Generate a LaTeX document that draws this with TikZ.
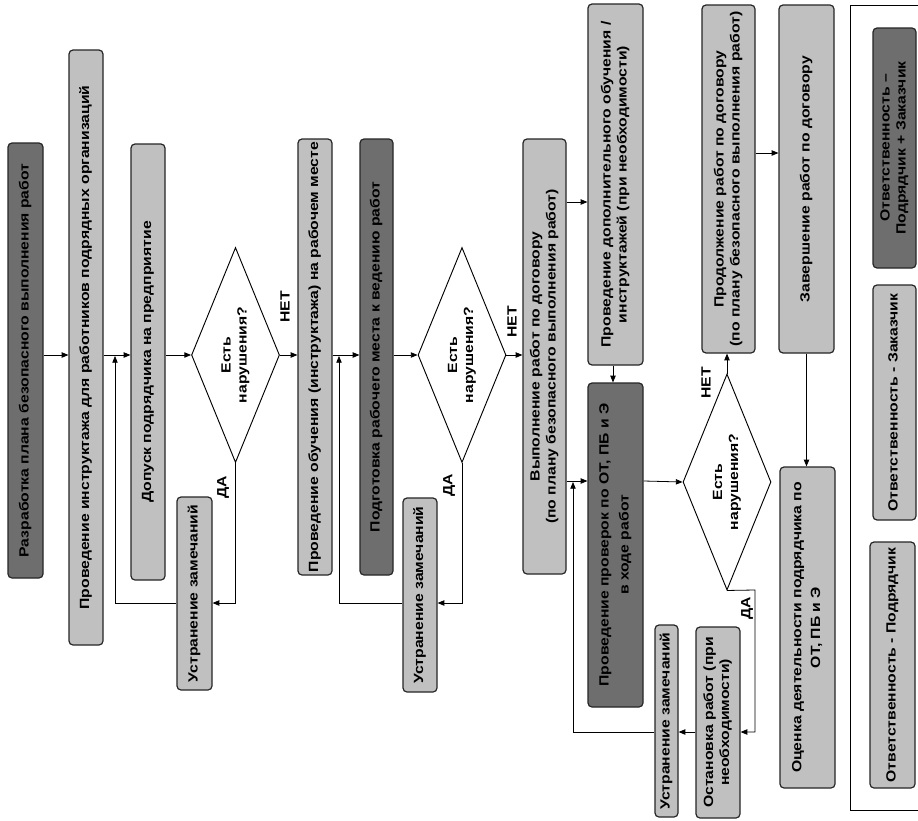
\documentclass[tikz,border=0pt]{standalone}
\usepackage{graphicx}
\usepackage{fontspec}
\setmainfont{Liberation Sans}[FakeStretch=1.18]
\usetikzlibrary{shapes.geometric,arrows.meta}
\newdimen\px \px=0.75pt
\newcommand{\rt}[1]{\rotatebox{90}{\begin{tabular}{@{}c@{}}#1\end{tabular}}}
\definecolor{lightgr}{HTML}{C0C0C0}
\definecolor{darkgr}{HTML}{6E6E6E}
\begin{document}
\begin{tikzpicture}[x=0.75pt,y=-0.75pt,
  every node/.style={font=\bfseries\fontsize{10}{12}\selectfont},
  box/.style={draw=black!85, line width=0.9pt, rounded corners=3pt, inner sep=0pt},
  lbox/.style={box, fill=lightgr},
  dbox/.style={box, fill=darkgr},
  dia/.style={diamond, draw=black, fill=white, line width=0.7pt, inner sep=0pt, minimum width=88\px, minimum height=215\px},
  arr/.style={-{Triangle[length=5pt,width=4pt]}, line width=0.6pt},
  ln/.style={line width=0.6pt},
  lbl/.style={inner sep=0pt}]
\useasboundingbox (0,0) rectangle (918,821);
\fill[white] (0,0) rectangle (918,821);
% column 1
\node[dbox, minimum width=35\px, minimum height=435\px] (razr) at (25.5,360.5) {\rt{Разработка плана безопасного выполнения работ}};
\node[lbox, minimum width=34\px, minimum height=595\px] (instr) at (86,347.5) {\rt{Проведение инструктажа для работников подрядных организаций}};
\node[lbox, minimum width=34\px, minimum height=436\px] (dopusk) at (148,362) {\rt{Допуск подрядчика на предприятие}};
\node[dia, label=center:{\rt{Есть\\нарушения?}}] (d1) at (235.5,355) {};
\node[lbox, minimum width=35\px, minimum height=193\px] (ustr1) at (194.5,593.5) {\rt{Устранение замечаний}};
% column 2
\node[lbox, minimum width=34\px, minimum height=436\px] (obuch) at (315,357) {\rt{Проведение обучения (инструктажа) на рабочем месте}};
\node[dbox, minimum width=33\px, minimum height=436\px] (podg) at (376.5,357) {\rt{Подготовка рабочего места к ведению работ}};
\node[dia, label=center:{\rt{Есть\\нарушения?}}] (d2) at (462,355) {};
\node[lbox, minimum width=34\px, minimum height=194\px] (ustr2) at (420,595) {\rt{Устранение замечаний}};
% column 3
\node[lbox, minimum width=43\px, minimum height=435\px] (vyp) at (544.5,356.5) {\rt{Выполнение работ по договору\\(по плану безопасного выполнения работ)}};
\node[lbox, minimum width=55\px, minimum height=361\px] (dop) at (615.5,184.5) {\rt{Проведение дополнительного обучения /\\инструктажей (при необходимости)}};
\node[dbox, minimum width=55\px, minimum height=324\px] (prov) at (615.5,545) {\rt{Проведение проверок по ОТ, ПБ и Э\\[3pt]в ходе работ}};
\node[dia, minimum height=216\px, label=center:{\rt{Есть\\нарушения?}}] (d3) at (727,482) {};
\node[lbox, minimum width=53\px, minimum height=348\px] (prod) at (728.5,179) {\rt{Продолжение работ по договору\\(по плану безопасного выполнения работ)}};
\node[lbox, minimum width=55\px, minimum height=348\px] (zav) at (806.5,179) {\rt{Завершение работ по договору}};
\node[lbox, minimum width=55\px, minimum height=321\px] (ocen) at (807.5,627.5) {\rt{Оценка деятельности подрядчика по\\[2pt]ОТ, ПБ и Э}};
\node[lbox, minimum width=44\px, minimum height=191\px] (ost) at (718,722.5) {\rt{Остановка работ (при\\необходимости)}};
\node[lbox, minimum width=23\px, minimum height=192\px] (ustr3) at (666.5,721) {\rt{Устранение замечаний}};
% legend
\draw[ln] (918,5) -- (850,5) -- (850,810) -- (918,810);
\node[dbox, minimum width=43\px, minimum height=240\px] (leg1) at (894.5,148) {\rt{Ответственность –\\Подрядчик + Заказчик}};
\node[lbox, minimum width=43\px, minimum height=235\px] (leg2) at (894.5,402.5) {\rt{Ответственность - Заказчик}};
\node[lbox, minimum width=45\px, minimum height=246\px] (leg3) at (892.5,665) {\rt{Ответственность - Подрядчик}};
% labels
\node[lbl] (net1) at (285,307) {\rotatebox{90}{НЕТ}};
\node[lbl] (da1) at (223,487) {\rotatebox{90}{ДА}};
\node[lbl] (da2) at (449,485) {\rotatebox{90}{ДА}};
\node[lbl] (net2) at (512,322) {\rotatebox{90}{НЕТ}};
\node[lbl] (net3) at (706,383) {\rotatebox{90}{НЕТ}};
\node[lbl] (da3) at (747,608) {\rotatebox{90}{ДА}};
% coordinates
\coordinate (r1) at (0,355);
\coordinate (r2) at (0,603);
\coordinate (r3) at (0,481);
\coordinate (r4) at (0,732);
\coordinate (la) at (115,356);
\coordinate (lb) at (339,356);
\coordinate (lc) at (573,482);
\coordinate (dc) at (755,590);
% connectors column 1
\draw[arr] (razr.east |- r1) -- (instr.west |- r1);
\draw[arr] (instr.east |- r1) -- (dopusk.west |- r1);
\draw[arr] (dopusk.east |- r1) -- (d1.west);
\draw[arr] (d1.south) -- (d1.south |- r2) -- (ustr1.east |- r2);
\draw[arr] (ustr1.west |- r2) -| (la);
\draw[arr] (d1.east) -- (obuch.west |- d1.east);
% column 2
\draw[arr] (obuch.east |- r1) -- (podg.west |- r1);
\draw[arr] (podg.east |- r1) -- (d2.west);
\draw[arr] (d2.south) -- (d2.south |- r2) -- (ustr2.east |- r2);
\draw[arr] (ustr2.west |- r2) -| (lb);
\draw[arr] (d2.east) -- (vyp.west |- d2.east);
% column 3
\draw[arr] (vyp.east |- 0,202) -- (dop.west |- 0,202);
\draw[arr] (vyp.east |- r3) -- (prov.west |- r3);
\draw[arr] (dop.south -| 613,0) -- (prov.north -| 613,0);
\draw[arr] (prov.east |- r3) -- (d3.west);
\draw[arr] (d3.north) -- (prod.south -| d3.north);
\draw[arr] (prod.east |- 0,153) -- (zav.west |- 0,153);
\draw[arr] (zav.south) -- (ocen.north -| zav.south);
\draw[arr] (d3.south) -- (dc) -- (dc |- r4) -- (ost.east |- r4);
\draw[arr] (ost.west |- r4) -- (ustr3.east |- r4);
\draw[arr] (ustr3.west |- r4) -| (lc);
\end{tikzpicture}
\end{document}
